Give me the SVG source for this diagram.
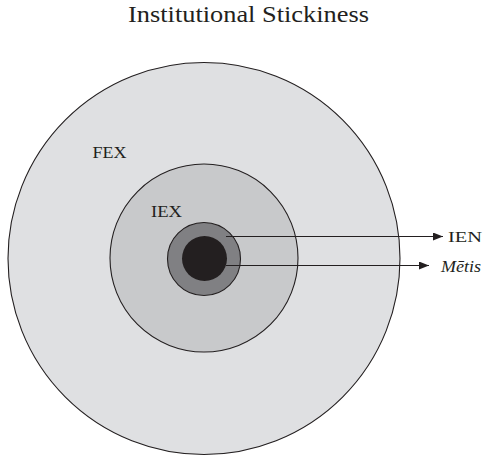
<svg xmlns="http://www.w3.org/2000/svg" width="486" height="458" viewBox="0 0 486 458">
<style>
.t{font-family:"Liberation Serif","Times New Roman",serif;fill:#231f20}
.ring{stroke:#231f20;stroke-width:1.1}
.conn{stroke:#231f20;stroke-width:1.1;fill:none}
</style>
<defs>
<marker id="ah" viewBox="0 0 10 8" refX="10" refY="4" markerWidth="10" markerHeight="8" markerUnits="userSpaceOnUse" orient="auto">
<path d="M0,0 L10,4 L0,8 Z" fill="#231f20"/>
</marker>
</defs>
<rect width="486" height="458" fill="#fff"/>
<text class="t" x="248.5" y="22" font-size="23" text-anchor="middle" textLength="241" lengthAdjust="spacingAndGlyphs">Institutional Stickiness</text>
<g id="FEX">
<circle class="ring" cx="204" cy="258.5" r="196" fill="#dfe0e2"/>
<text class="t" x="92.5" y="158" font-size="16.5" textLength="34" lengthAdjust="spacingAndGlyphs">FEX</text>
</g>
<g id="IEX">
<circle class="ring" cx="204" cy="258" r="94" fill="#c8c9cb"/>
<text class="t" x="151" y="217" font-size="16.5" textLength="31" lengthAdjust="spacingAndGlyphs">IEX</text>
</g>
<g id="IEN">
<circle class="ring" cx="204" cy="259" r="36.5" fill="#808083"/>
<text class="t" x="448" y="242" font-size="15.5" textLength="34" lengthAdjust="spacingAndGlyphs">IEN</text>
</g>
<g id="Metis">
<circle cx="204.5" cy="258.5" r="22.5" fill="#231f20"/>
<text class="t" x="441" y="272" font-size="16" font-style="italic" textLength="40" lengthAdjust="spacingAndGlyphs">Mētis</text>
</g>
<g id="connectors">
<line class="conn" x1="226" y1="236.5" x2="443" y2="236.5" marker-end="url(#ah)"/>
<line class="conn" x1="226" y1="265.5" x2="429" y2="265.5" marker-end="url(#ah)"/>
</g>
</svg>
